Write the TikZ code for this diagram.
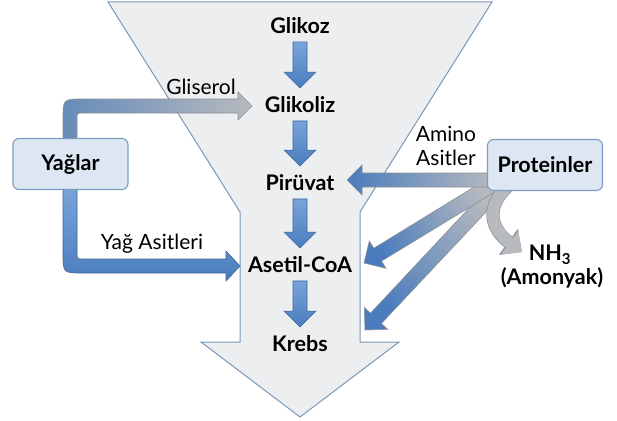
\documentclass[tikz,border=0pt]{standalone}
\usepackage{fontspec}
\setmainfont{Lato}
\usetikzlibrary{calc,arrows.meta}
\definecolor{funfill}{HTML}{EDEEF0}
\definecolor{funedge}{HTML}{7898BA}
\definecolor{boxfill}{HTML}{DCE7F3}
\definecolor{boxedge}{HTML}{7E9CC0}
\definecolor{blueA}{HTML}{78A4DA}
\definecolor{blueB}{HTML}{4A7CBD}
\definecolor{blueedge}{HTML}{3E6699}
\definecolor{grayA}{HTML}{B7BABE}
\definecolor{grayedge}{HTML}{8C9095}
% #1 style, #2 start, #3 tip, #4 shaft half width, #5 head half width, #6 head length
\newcommand\blockarrow[6]{%
  \coordinate (ba-H) at ($(#3)!#6!(#2)$);
  \path[#1] ($(#2)!#4!90:(#3)$) -- ($(ba-H)!#4!90:(#3)$) -- ($(ba-H)!#5!90:(#3)$) -- (#3)
    -- ($(ba-H)!#5!-90:(#3)$) -- ($(ba-H)!#4!-90:(#3)$) -- ($(#2)!#4!-90:(#3)$) -- cycle;}
\tikzset{
  lab/.style={font=\bfseries\fontsize{21.5}{24}\selectfont, inner sep=0pt, text height=15.5pt, text depth=0pt},
  small/.style={font=\fontsize{21}{24}\selectfont, inner sep=0pt, align=center},
  srcbox/.style={draw=boxedge, fill=boxfill, line width=1.1pt, rounded corners=6pt,
    minimum width=115pt, minimum height=51pt, font=\bfseries\fontsize{21.5}{24}\selectfont},
  bluearr/.style={top color=blueA, bottom color=blueB, draw=blueedge, line width=0.6pt},
  funnel/.style={draw=funedge, fill=funfill, line width=1pt},
}
\begin{document}
\begin{tikzpicture}[x=1pt,y=-1pt]
\useasboundingbox (0,0) rectangle (617,420);
% big funnel arrow
\path[funnel] (108,2) -- (492,2) -- (360,212) -- (360,342) -- (399,342) -- (300,417)
  -- (201,342) -- (240,342) -- (240,212) -- cycle;
% pathway labels
\node[lab] (glikoz) at (300,26) {Glikoz};
\node[lab] (glikoliz) at (300,105) {Glikoliz};
\node[lab] (piruvat) at (300,183) {Pirüvat};
\node[lab] (asetil) at (300,265) {Asetil-CoA};
\node[lab] (krebs) at (300,344) {Krebs};
% down arrows
\foreach \a/\b/\n in {glikoz/glikoliz/1, glikoliz/piruvat/2, piruvat/asetil/3, asetil/krebs/4}{
  \coordinate (s\n) at ($(\a.south)+(0,8)$);
  \coordinate (e\n) at ($(\b.north)+(0,-9)$);
  \blockarrow{bluearr}{s\n}{e\n}{7pt}{16pt}{16pt}
}
% source boxes (positions)
\coordinate (yc) at (70.5,164);
\coordinate (pc) at (545,165);
% Yaglar -> Glikoliz (Gliserol)
\path[left color=blueA!85!black, right color=grayA, draw=grayedge, line width=0.6pt]
  (63,140) -- (63,119) .. controls (63,99) .. (83,99) -- (238,99) -- (238,92) -- (252,106)
  -- (238,120) -- (238,113) -- (83,113) .. controls (77,113) .. (77,119) -- (77,140) -- cycle;
% Yaglar -> Asetil-CoA (Yag Asitleri)
\path[top color=blueA, bottom color=blueB, draw=blueedge, line width=0.6pt]
  (63,188) -- (63,253) .. controls (63,273) .. (83,273) -- (226,273) -- (226,281) -- (240,266)
  -- (226,251) -- (226,259) -- (83,259) .. controls (77,259) .. (77,253) -- (77,188) -- cycle;
% Proteinler arrows
\coordinate (pk0) at (502,184);
\coordinate (pk1) at (365,330);
\coordinate (pa0) at (495,183);
\coordinate (pa1) at (364,263);
\coordinate (pp0) at (495,180);
\coordinate (pp1) at (347,180);
\blockarrow{top color=grayA, bottom color=blueB, shading angle=-44, draw=grayedge, line width=0.6pt}{pk0}{pk1}{7.5pt}{16pt}{16pt}
\blockarrow{top color=grayA, bottom color=blueB, shading angle=-60, draw=grayedge, line width=0.6pt}{pa0}{pa1}{7.5pt}{16pt}{16pt}
\blockarrow{left color=blueB, right color=grayA, draw=grayedge, line width=0.6pt}{pp0}{pp1}{7pt}{15pt}{15pt}
% NH3 curved arrow
\coordinate (nh0) at (508,186);
\coordinate (nh1) at (522,252);
\draw[line width=13.2pt, grayedge, -{Triangle[length=17pt,width=31pt]}]
  (nh0) .. controls (484,208) and (492,230) .. (nh1);
\draw[line width=12pt, grayA, -{Triangle[length=15.6pt,width=28.6pt]}]
  (nh0) .. controls (484,208) and (492,230) .. (nh1);
% boxes
\node[srcbox] (yaglar) at (yc) {Yağlar};
\node[srcbox] (proteinler) at (pc) {Proteinler};
% labels
\node[small] (gliserol) at (201,87) {Gliserol};
\node[small] (yagasit) at (152,244) {Yağ Asitleri};
\node[small] (amino) at (446,146) {Amino\\Asitler};
\node[lab, text height=17pt] (nh3) at (550,252) {NH\textsubscript{3}};
\node[lab] (amonyak) at (552,277) {(Amonyak)};
\end{tikzpicture}
\end{document}
